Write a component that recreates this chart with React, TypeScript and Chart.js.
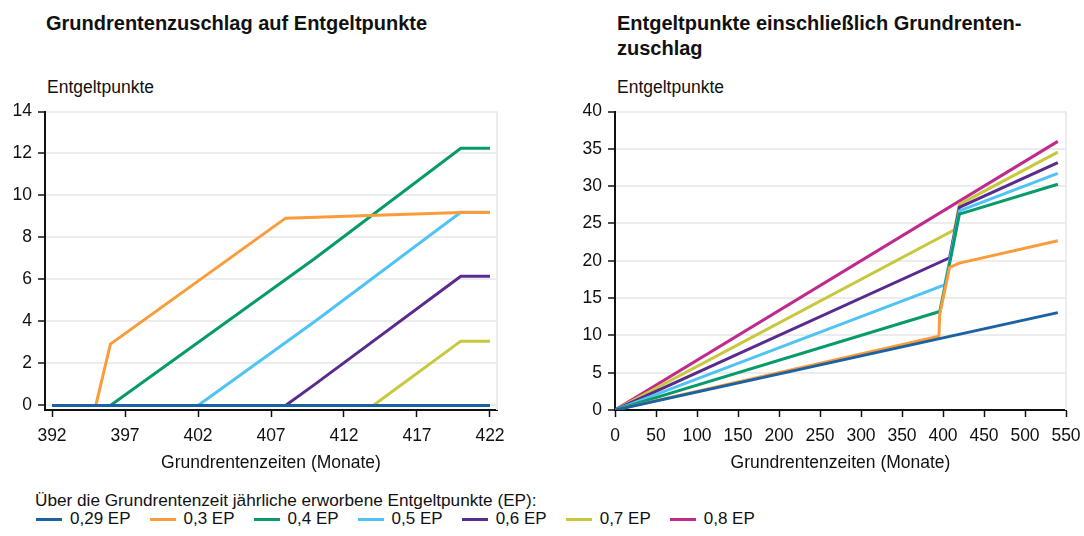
import React, { useEffect, useRef } from "react";
import { Chart, registerables } from "chart.js";

Chart.register(...registerables);

// ---- Series meta ----
const seriesLabels = ["0,29 EP", "0,3 EP", "0,4 EP", "0,5 EP", "0,6 EP", "0,7 EP", "0,8 EP"];
const seriesColors = ["#1b62a5", "#fb9c3b", "#079b6c", "#4fc4f4", "#5a2b8e", "#c7c83c", "#bf2a8c"];

// ---- Left chart: Grundrentenzuschlag (months 392..422) ----
const leftXTicks = [392, 397, 402, 407, 412, 417, 422];
const leftYTicks = [0, 2, 4, 6, 8, 10, 12, 14];
const left029 = [{ x: 392, y: 0 }, { x: 422, y: 0 }];
const left030 = [{ x: 392, y: 0 }, { x: 395, y: 0 }, { x: 396, y: 2.92 }, { x: 408, y: 8.92 }, { x: 420, y: 9.19 }, { x: 422, y: 9.19 }];
const left040 = [{ x: 392, y: 0 }, { x: 396, y: 0 }, { x: 410, y: 7.0 }, { x: 420, y: 12.25 }, { x: 422, y: 12.25 }];
const left050 = [{ x: 392, y: 0 }, { x: 402, y: 0 }, { x: 410, y: 4.0 }, { x: 420, y: 9.2 }, { x: 422, y: 9.2 }];
const left060 = [{ x: 392, y: 0 }, { x: 408, y: 0 }, { x: 410, y: 1.0 }, { x: 420, y: 6.15 }, { x: 422, y: 6.15 }];
const left070 = [{ x: 392, y: 0 }, { x: 414, y: 0 }, { x: 420, y: 3.06 }, { x: 422, y: 3.06 }];
const left080 = [{ x: 392, y: 0 }, { x: 422, y: 0 }];

// ---- Right chart: Entgeltpunkte incl. Zuschlag (months 0..540) ----
const rightXTicks = [0, 50, 100, 150, 200, 250, 300, 350, 400, 450, 500, 550];
const rightYTicks = [0, 5, 10, 15, 20, 25, 30, 35, 40];
const right029 = [{ x: 0, y: 0 }, { x: 540, y: 13.05 }];
const right030 = [{ x: 0, y: 0 }, { x: 395, y: 9.88 }, { x: 396, y: 12.82 }, { x: 408, y: 19.12 }, { x: 420, y: 19.69 }, { x: 540, y: 22.69 }];
const right040 = [{ x: 0, y: 0 }, { x: 396, y: 13.2 }, { x: 410, y: 20.67 }, { x: 420, y: 26.25 }, { x: 540, y: 30.25 }];
const right050 = [{ x: 0, y: 0 }, { x: 402, y: 16.75 }, { x: 410, y: 21.08 }, { x: 420, y: 26.7 }, { x: 540, y: 31.7 }];
const right060 = [{ x: 0, y: 0 }, { x: 408, y: 20.4 }, { x: 410, y: 21.5 }, { x: 420, y: 27.15 }, { x: 540, y: 33.15 }];
const right070 = [{ x: 0, y: 0 }, { x: 414, y: 24.15 }, { x: 420, y: 27.56 }, { x: 540, y: 34.56 }];
const right080 = [{ x: 0, y: 0 }, { x: 540, y: 36.0 }];

const leftSeries = [left029, left030, left040, left050, left060, left070, left080];
const rightSeries = [right029, right030, right040, right050, right060, right070, right080];

const FONT = '"Liberation Sans", Arial, sans-serif';

const rightBorderPlugin = {
  id: "rightBorder",
  beforeDatasetsDraw(chart: any) {
    const { ctx, chartArea } = chart;
    ctx.save();
    ctx.strokeStyle = "#ececec";
    ctx.lineWidth = 2;
    ctx.beginPath();
    ctx.moveTo(chartArea.right, chartArea.top);
    ctx.lineTo(chartArea.right, chartArea.bottom);
    ctx.stroke();
    ctx.restore();
  },
};

type Props = {
  series: { x: number; y: number }[][];
  xMin: number;
  xMax: number;
  xTicks: number[];
  yMin: number;
  yMax: number;
  yTicks: number[];
  yAxisWidth: number;
  padRight: number;
  padTop: number;
  width: number;
  height: number;
  left: number;
  top: number;
};

function LineChart(p: Props) {
  const ref = useRef<HTMLCanvasElement | null>(null);
  useEffect(() => {
    if (!ref.current) return;
    const chart = new Chart(ref.current, {
      type: "line",
      data: {
        datasets: p.series.map((d, i) => ({
          label: seriesLabels[i],
          data: d,
          borderColor: seriesColors[i],
          backgroundColor: seriesColors[i],
          borderWidth: 3,
          pointRadius: 0,
          tension: 0,
          fill: false,
        })),
      },
      options: {
        animation: false,
        responsive: false,
        maintainAspectRatio: false,
        layout: { padding: { top: p.padTop, right: p.padRight, left: 0, bottom: 0 } },
        plugins: { legend: { display: false }, tooltip: { enabled: false } },
        scales: {
          x: {
            type: "linear",
            min: p.xMin,
            max: p.xMax,
            afterBuildTicks: (s: any) => {
              s.ticks = p.xTicks.map((v) => ({ value: v }));
            },
            afterFit: (s: any) => {
              s.height = 70;
              s.paddingLeft = 0;
              s.paddingRight = 0;
            },
            grid: { drawOnChartArea: false, drawTicks: true, tickLength: 7, tickColor: "#111", tickWidth: 1.5 },
            border: { color: "#111", width: 2 },
            ticks: { font: { family: FONT, size: 17.5 }, color: "#111", padding: 9, maxRotation: 0, autoSkip: false },
            title: {
              display: true,
              text: "Grundrentenzeiten (Monate)",
              font: { family: FONT, size: 17.5 },
              color: "#111",
              padding: { top: 0, bottom: 6 },
            },
          },
          y: {
            type: "linear",
            min: p.yMin,
            max: p.yMax,
            afterBuildTicks: (s: any) => {
              s.ticks = p.yTicks.map((v) => ({ value: v }));
            },
            afterFit: (s: any) => {
              s.width = p.yAxisWidth;
            },
            grid: { color: "#ececec", lineWidth: 2, drawTicks: true, tickLength: 7, tickColor: "#111", tickWidth: 1.5 },
            border: { color: "#111", width: 2 },
            ticks: { font: { family: FONT, size: 17.5 }, color: "#111", padding: 6 },
          },
        },
      },
      plugins: [rightBorderPlugin],
    } as any);
    return () => chart.destroy();
  }, []);
  return (
    <canvas
      ref={ref}
      width={p.width}
      height={p.height}
      style={{ position: "absolute", left: p.left, top: p.top, width: p.width, height: p.height, display: "block" }}
    />
  );
}

const txt: React.CSSProperties = { position: "absolute", fontFamily: FONT, color: "#111", whiteSpace: "nowrap" };

export default function App() {
  return (
    <div style={{ position: "fixed", left: 0, top: 0, width: 1084, height: 536, background: "#fff", overflow: "hidden" }}>
      <div style={{ ...txt, left: 46, top: 11, fontSize: 20, lineHeight: "25px", fontWeight: 700 }}>
        Grundrentenzuschlag auf Entgeltpunkte
      </div>
      <div style={{ ...txt, left: 617, top: 11, fontSize: 20, lineHeight: "25px", fontWeight: 700 }}>
        Entgeltpunkte einschließlich Grundrenten-
        <br />
        zuschlag
      </div>
      <div style={{ ...txt, left: 47, top: 77, fontSize: 17.5, lineHeight: "20px" }}>Entgeltpunkte</div>
      <div style={{ ...txt, left: 617, top: 77, fontSize: 17.5, lineHeight: "20px" }}>Entgeltpunkte</div>

      <LineChart
        series={leftSeries}
        xMin={391.52}
        xMax={422.48}
        xTicks={leftXTicks}
        yMin={-0.22}
        yMax={14}
        yTicks={leftYTicks}
        yAxisWidth={45}
        padRight={23}
        padTop={13}
        width={520}
        height={385}
        left={0}
        top={95}
      />
      <LineChart
        series={rightSeries}
        xMin={0}
        xMax={550}
        xTicks={rightXTicks}
        yMin={0}
        yMax={40}
        yTicks={rightYTicks}
        yAxisWidth={55}
        padRight={18}
        padTop={13}
        width={524}
        height={385}
        left={560}
        top={95}
      />

      <div style={{ ...txt, left: 35, top: 490, fontSize: 17.2, lineHeight: "20px" }}>
        Über die Grundrentenzeit jährliche erworbene Entgeltpunkte (EP):
      </div>
      <div style={{ position: "absolute", left: 36, top: 509, height: 20, display: "flex", alignItems: "center", gap: 19 }}>
        {seriesLabels.map((l, i) => (
          <div key={l} style={{ display: "flex", alignItems: "center" }}>
            <div style={{ width: 26, height: 3, background: seriesColors[i], marginRight: 8 }} />
            <span style={{ fontFamily: FONT, fontSize: 17, lineHeight: "20px", color: "#111" }}>{l}</span>
          </div>
        ))}
      </div>
    </div>
  );
}
